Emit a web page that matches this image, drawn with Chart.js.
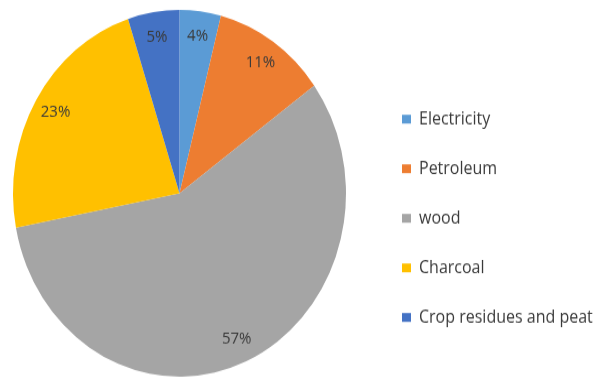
<!DOCTYPE html>
<html>
<head>
<meta charset="utf-8">
<script src="https://cdn.jsdelivr.net/npm/chart.js@4/dist/chart.umd.min.js"></script>
<style>
    html, body { margin: 0; padding: 0; background: #ffffff; }
    #frame {
        width: 595px;
        height: 380px;
        overflow: hidden;
        position: relative;
    }
    /* the source image is stretched vertically, so the pie is an ellipse */
    #wrap {
        position: absolute;
        left: -14px;
        top: 0;
        width: 609px;
        height: 345px;
        transform: scaleY(1.1014);
        transform-origin: 0 0;
    }
</style>
</head>
<body>
<div id="frame"><div id="wrap"><canvas id="energyPie" width="609" height="345"></canvas></div></div>
<script>
const categories = ['Electricity', 'Petroleum', 'wood', 'Charcoal', 'Crop residues and peat'];
const shares = [4, 11, 57, 23, 5];
const sliceColors = ['#5b9bd5', '#ed7d31', '#a5a5a5', '#ffc000', '#4472c4'];

const fontFamily = '"Open Sans", Lato, sans-serif';
const textColor = '#3a3a3a';

// percent labels inside each slice, placed along the mid angle
const sliceLabels = {
    id: 'sliceLabels',
    afterDatasetsDraw(chart) {
        const ctx = chart.ctx;
        const meta = chart.getDatasetMeta(0);
        ctx.save();
        ctx.font = '15px ' + fontFamily;
        ctx.fillStyle = textColor;
        ctx.textAlign = 'center';
        ctx.textBaseline = 'middle';
        meta.data.forEach((arc, i) => {
            const p = arc.getProps(['x', 'y', 'startAngle', 'endAngle', 'outerRadius'], true);
            const mid = (p.startAngle + p.endAngle) / 2;
            const r = p.outerRadius * 0.865;
            ctx.fillText(shares[i] + '%', p.x + Math.cos(mid) * r, p.y + Math.sin(mid) * r);
        });
        ctx.restore();
    }
};

new Chart(document.getElementById('energyPie'), {
    type: 'pie',
    data: {
        labels: categories,
        datasets: [{
            data: shares,
            backgroundColor: sliceColors,
            borderWidth: 0
        }]
    },
    options: {
        responsive: false,
        animation: false,
        layout: { padding: { left: 0, top: 9, bottom: 3, right: 0 } },
        plugins: {
            tooltip: { enabled: false },
            legend: {
                position: 'right',
                maxWidth: 222,
                title: { display: true, text: '', padding: { top: 17, bottom: 14 }, font: { size: 12 } },
                labels: {
                    boxWidth: 9,
                    boxHeight: 8,
                    padding: 29,
                    color: textColor,
                    font: { family: fontFamily, size: 16 }
                }
            }
        }
    },
    plugins: [sliceLabels]
});
</script>
</body>
</html>
